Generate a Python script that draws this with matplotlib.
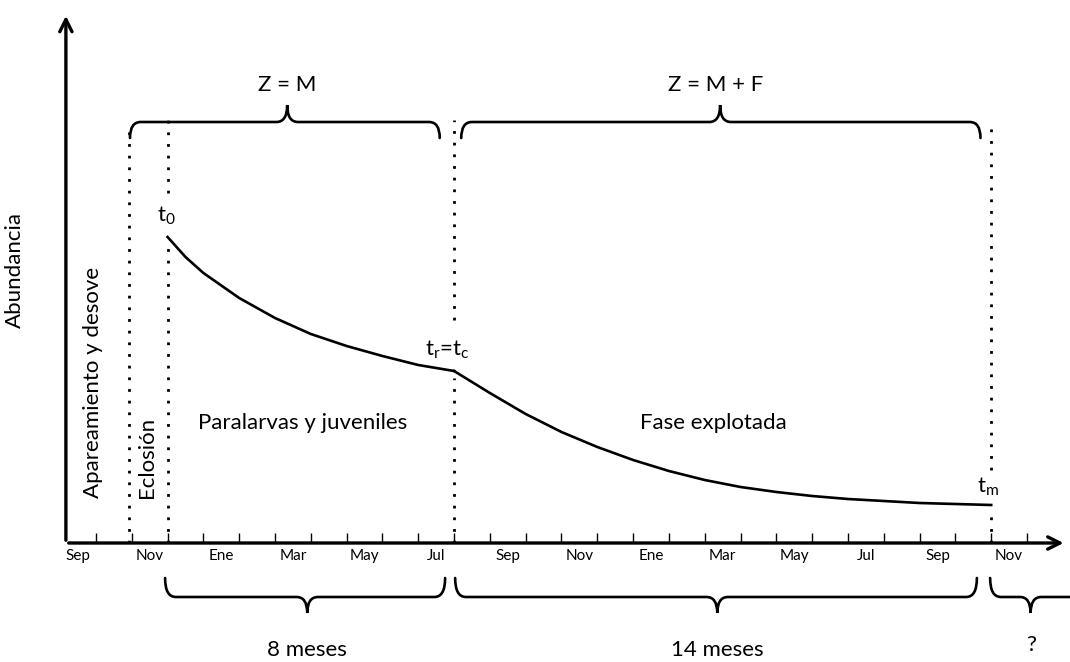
import matplotlib.pyplot as plt
from matplotlib.path import Path
from matplotlib.patches import PathPatch

plt.rcParams['font.family'] = ['Lato', 'DejaVu Sans']
plt.rcParams['mathtext.fontset'] = 'custom'
plt.rcParams['mathtext.rm'] = 'Lato'
plt.rcParams['mathtext.it'] = 'Lato'

# month index 0 = Sep (first year)
month_labels = ["Sep", "Nov", "Ene", "Mar", "May", "Jul", "Sep",
                "Nov", "Ene", "Mar", "May", "Jul", "Sep", "Nov"]

# paralarvae / juveniles (t0 -> tr)
m1 = [3, 3.25, 3.5, 4, 5, 6, 7, 8, 9, 10, 11]
n1 = [306, 296, 286, 270, 245, 225, 209, 197, 187, 178, 172]

# exploited phase (tr -> tm)
m2 = [11, 12, 13, 14, 15, 16, 17, 18, 19, 20, 21, 22, 23, 24, 25, 26]
n2 = [172, 150, 129, 111, 96, 83, 72, 63, 56, 51, 47, 44, 42, 40, 39, 38]

fig = plt.figure(figsize=(10.7, 6.62), dpi=100)
ax = fig.add_axes([0, 0, 1, 1])
ax.set_xlim(-1.68, 28.2)
ax.set_ylim(-119, 543)
ax.axis("off")

# axes with arrows
ax.annotate("", xy=(0.16, 530), xytext=(0.16, 0),
            arrowprops=dict(arrowstyle="->", lw=2.4, mutation_scale=22, color="black"))
ax.annotate("", xy=(28.1, 0), xytext=(0.16, 0),
            arrowprops=dict(arrowstyle="->", lw=2.4, mutation_scale=22, color="black"))

# ticks and month labels
ax.vlines(range(1, 28), 0, 10, color="black", lw=1.0)
for i, lab in enumerate(month_labels):
    ax.text(2 * i + 0.5, -13, lab, ha="center", va="center", fontsize=11)

# curves
ax.plot(m1, n1, color="black", lw=1.9)
ax.plot(m2, n2, color="black", lw=1.9)

# dotted markers
dot = dict(color="black", lw=2.0, linestyle=(0, (1, 3.2)))
ax.plot([1.93, 1.93], [0, 418], **dot)
ax.plot([3, 3], [0, 296], **dot)
ax.plot([3, 3], [350, 423], **dot)
ax.plot([11, 11], [0, 165], **dot)
ax.plot([11, 11], [223, 423], **dot)
ax.plot([26, 26], [0, 33], **dot)
ax.plot([26, 26], [73, 423], **dot)


def brace(x0, x1, xm, y_end, y_line, y_tip, r=0.3):
    verts = [(x0, y_end), (x0, y_line), (x0 + r, y_line),
             (xm - r, y_line), (xm, y_line), (xm, y_tip),
             (xm, y_line), (xm + r, y_line),
             (x1 - r, y_line), (x1, y_line), (x1, y_end)]
    codes = [Path.MOVETO, Path.CURVE3, Path.CURVE3,
             Path.LINETO, Path.CURVE3, Path.CURVE3,
             Path.CURVE3, Path.CURVE3,
             Path.LINETO, Path.CURVE3, Path.CURVE3]
    ax.add_patch(PathPatch(Path(verts, codes), fill=False, lw=1.9,
                           edgecolor="black", capstyle="round", clip_on=False))


# top braces
brace(1.95, 10.6, 6.34, 405, 421, 438)
brace(11.2, 25.7, 18.43, 405, 421, 438)
# bottom braces
brace(2.93, 10.75, 6.9, -35, -54, -70)
brace(11.03, 25.6, 18.35, -35, -54, -70)
brace(25.97, 29.5, 27.1, -35, -54, -70)

fs = 16
ax.text(6.34, 458, "Z = M", ha="center", va="center", fontsize=fs)
ax.text(18.3, 458, "Z = M + F", ha="center", va="center", fontsize=fs)
ax.text(2.71, 321, r"t$_\mathregular{0}$", ha="left", va="baseline", fontsize=fs)
ax.text(10.2, 187, r"t$_\mathregular{r}$=t$_\mathregular{c}$", ha="left", va="baseline", fontsize=fs)
ax.text(25.6, 50, r"t$_\mathregular{m}$", ha="left", va="baseline", fontsize=fs)
ax.text(3.85, 120, "Paralarvas y juveniles", ha="left", va="center", fontsize=fs)
ax.text(16.2, 120, "Fase explotada", ha="left", va="center", fontsize=fs)
ax.text(-1.26, 273, "Abundancia", rotation=90, ha="center", va="center", fontsize=fs)
ax.text(0.92, 45, "Apareamiento y desove", rotation=90, ha="center", va="bottom", fontsize=fs)
ax.text(2.42, 45, "Eclosión", rotation=90, ha="center", va="bottom", fontsize=fs)
ax.text(6.9, -107, "8 meses", ha="center", va="center", fontsize=fs)
ax.text(18.35, -107, "14 meses", ha="center", va="center", fontsize=fs)
ax.text(27.1, -102, "?", ha="center", va="center", fontsize=fs)

fig.savefig("out.png", dpi=100)
